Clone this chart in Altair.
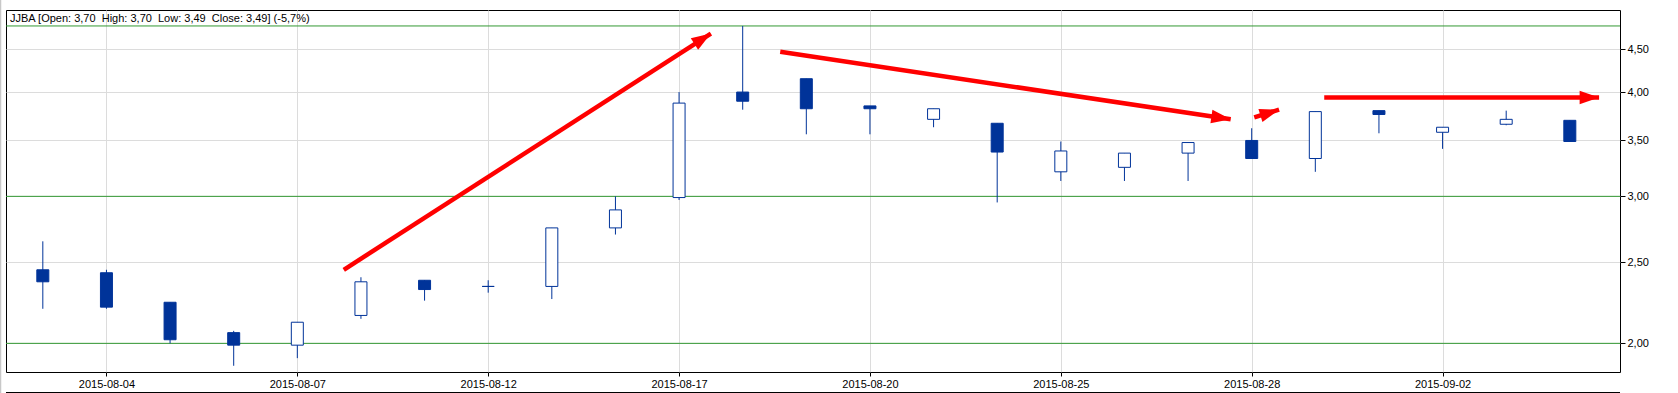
import math
import altair as alt
import pandas as pd

# ---------------- data ----------------
dates = ["2015-08-03", "2015-08-04", "2015-08-05", "2015-08-06", "2015-08-07",
         "2015-08-10", "2015-08-11", "2015-08-12", "2015-08-13", "2015-08-14",
         "2015-08-17", "2015-08-18", "2015-08-19", "2015-08-20", "2015-08-21",
         "2015-08-24", "2015-08-25", "2015-08-26", "2015-08-27", "2015-08-28",
         "2015-08-31", "2015-09-01", "2015-09-02", "2015-09-03", "2015-09-04"]
opens  = [2.45, 2.43, 2.24, 2.06, 1.99, 2.16, 2.38, 2.34, 2.34, 2.75, 2.99, 4.00, 4.15,
          3.85, 3.71, 3.67, 3.21, 3.25, 3.38, 3.50, 3.33, 3.80, 3.58, 3.66, 3.70]
highs  = [2.65, 2.45, 2.24, 2.07, 2.12, 2.40, 2.38, 2.38, 2.75, 3.00, 4.00, 4.80, 4.15,
          3.85, 3.82, 3.67, 3.49, 3.38, 3.48, 3.62, 3.79, 3.80, 3.63, 3.80, 3.70]
lows   = [2.20, 2.20, 2.00, 1.88, 1.92, 2.14, 2.25, 2.30, 2.26, 2.70, 2.97, 3.81, 3.56,
          3.56, 3.63, 2.95, 3.13, 3.13, 3.13, 3.33, 3.21, 3.57, 3.42, 3.65, 3.49]
closes = [2.37, 2.21, 2.02, 1.99, 2.12, 2.37, 2.32, 2.34, 2.75, 2.89, 3.88, 3.90, 3.82,
          3.82, 3.82, 3.39, 3.40, 3.38, 3.48, 3.33, 3.79, 3.76, 3.63, 3.71, 3.49]

tick_positions = [1, 4, 7, 10, 13, 16, 19, 22]
y_ticks = [2.0, 2.5, 3.0, 3.5, 4.0, 4.5]
level_lines = [2.0, 3.0, 4.8]

# red arrows: tail (x0, y0) -> tip (x1, y1), x in trading-day index
arrow_x0 = [4.73, 11.59, 19.04, 20.14]
arrow_y0 = [2.45, 4.47, 3.73, 3.94]
arrow_x1 = [10.50, 18.67, 19.43, 24.46]
arrow_y1 = [4.70, 3.71, 3.81, 3.94]

NB = "\u00a0"
title_text = ("JJBA [Open: 3,70" + NB + NB + "High: 3,70" + NB + NB + "Low: 3,49"
              + NB + NB + "Close: 3,49] (-5,7%)")

# ---------------- layout ----------------
W, H = 1614, 362
X_DOM = [-0.5, 24.71]
Y_DOM = [1.848, 5.016]
BLUE = "#003399"
GREEN = "#339933"
FONT = "Liberation Sans"

candles = pd.DataFrame({
    "i": list(range(len(dates))),
    "date": dates,
    "open": opens, "high": highs, "low": lows, "close": closes,
})
candles["dir"] = ["up" if c > o else ("down" if c < o else "flat")
                  for o, c in zip(opens, closes)]

px_per_idx = W / (X_DOM[1] - X_DOM[0])
px_per_ln = H / math.log(Y_DOM[1] / Y_DOM[0])
angles = []
for x0, y0, x1, y1 in zip(arrow_x0, arrow_y0, arrow_x1, arrow_y1):
    dx = (x1 - x0) * px_per_idx
    dy = -(math.log(y1) - math.log(y0)) * px_per_ln
    angles.append(math.degrees(math.atan2(dy, dx)) % 360)
arrows = pd.DataFrame({"x0": arrow_x0, "y0": arrow_y0, "x1": arrow_x1,
                       "y1": arrow_y1, "angle": angles})
levels = pd.DataFrame({"v": level_lines})

label_expr = "[" + ",".join("'%s'" % d for d in dates) + "][datum.value]"

xscale = alt.Scale(domain=X_DOM, nice=False, zero=False)
yscale = alt.Scale(type="log", domain=Y_DOM, nice=False, zero=False)

xaxis = alt.Axis(values=tick_positions, labelExpr=label_expr, title=None,
                 grid=True, gridColor="#dcdcdc", domain=False, tickColor="#000000",
                 tickSize=4, labelPadding=2, labelFont=FONT, labelFontSize=11,
                 labelColor="#000000")
yaxis = alt.Axis(values=y_ticks, orient="right", title=None,
                 labelExpr="replace(format(datum.value, '.2f'), '.', ',')",
                 grid=True, gridColor="#dcdcdc", domain=False, tickColor="#000000",
                 tickSize=5, labelPadding=2, labelFont=FONT, labelFontSize=11,
                 labelColor="#000000")

base = alt.Chart(candles)

levels_layer = alt.Chart(levels).mark_rule(color=GREEN, strokeWidth=1).encode(
    y=alt.Y("v:Q", scale=yscale, axis=yaxis)
)

wicks = base.mark_rule(color=BLUE, strokeWidth=1).encode(
    x=alt.X("i:Q", scale=xscale, axis=xaxis),
    y=alt.Y("low:Q", scale=yscale, axis=yaxis),
    y2="high:Q",
)

bodies = base.mark_bar(size=12, stroke=BLUE, strokeWidth=1).encode(
    x=alt.X("i:Q", scale=xscale, axis=xaxis),
    y=alt.Y("open:Q", scale=yscale, axis=yaxis),
    y2="close:Q",
    fill=alt.Fill("dir:N", scale=alt.Scale(domain=["up", "down", "flat"],
                                          range=["#ffffff", BLUE, BLUE]),
                  legend=None),
)

shafts = alt.Chart(arrows).mark_rule(color="#ff0000", strokeWidth=4.5,
                                     strokeCap="butt").encode(
    x=alt.X("x0:Q", scale=xscale, axis=xaxis),
    y=alt.Y("y0:Q", scale=yscale, axis=yaxis),
    x2="x1:Q",
    y2="y1:Q",
)

heads = alt.Chart(arrows).mark_point(
    shape="M0,0 L-2,-0.7 L-2,0.7 Z", filled=True, size=380,
    color="#ff0000", opacity=1, strokeWidth=0,
).encode(
    x=alt.X("x1:Q", scale=xscale, axis=xaxis),
    y=alt.Y("y1:Q", scale=yscale, axis=yaxis),
    angle=alt.Angle("angle:Q", scale=None),
)

title_layer = alt.Chart(pd.DataFrame({"t": [title_text]})).mark_text(
    align="left", baseline="alphabetic", font=FONT, fontSize=11, color="#000000",
).encode(x=alt.value(4), y=alt.value(12), text="t:N")

bottom_line = alt.Chart(pd.DataFrame({"k": [0]})).mark_rule(
    color="#000000", strokeWidth=1).encode(
    x=alt.value(0), x2=alt.value(W), y=alt.value(382.5))

left_line = alt.Chart(pd.DataFrame({"k": [0]})).mark_rule(
    color="#c8c8c8", strokeWidth=1.5).encode(
    x=alt.value(-5.5), y=alt.value(-10), y2=alt.value(383))

chart = alt.layer(
    levels_layer, wicks, bodies, shafts, heads, title_layer, bottom_line, left_line
).properties(
    width=W, height=H,
    padding={"left": 6, "top": 10, "right": 58, "bottom": 21},
    autosize=alt.AutoSizeParams(type="none"),
    background="#ffffff",
).configure_view(stroke="#000000", strokeWidth=1)

chart.save("out.html", embed_options={"renderer": "svg", "actions": False})
